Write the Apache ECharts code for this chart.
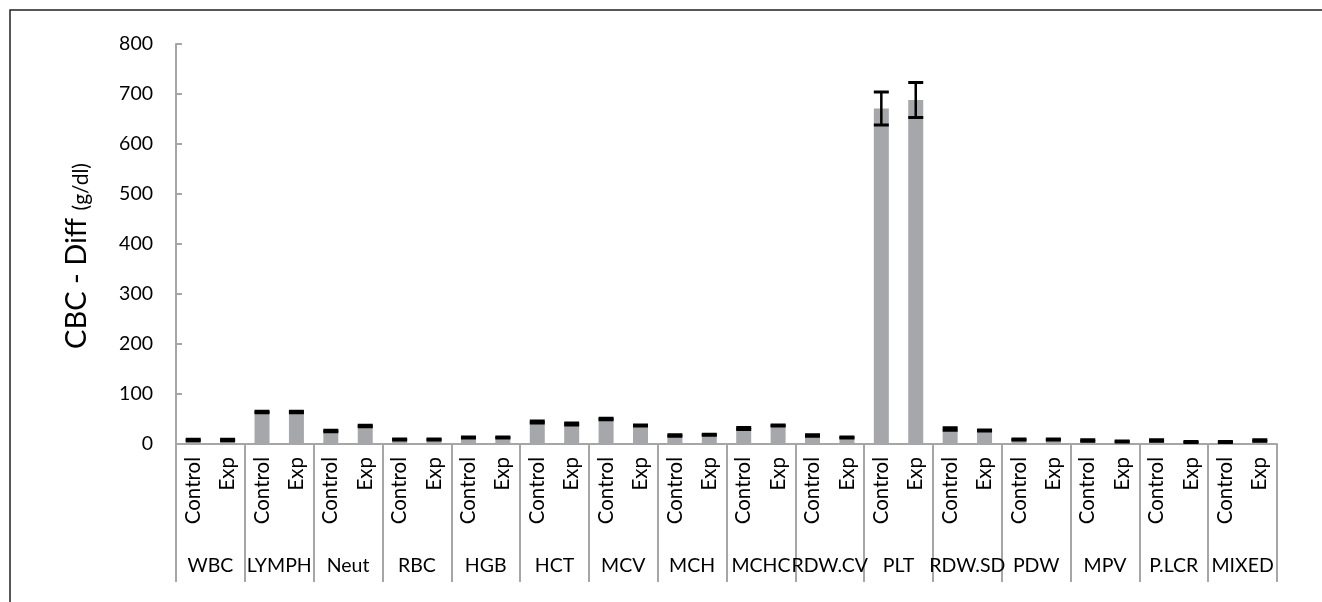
<!DOCTYPE html>
<html>
<head>
<meta charset="utf-8">
<script src="https://cdn.jsdelivr.net/npm/echarts@6/dist/echarts.min.js"></script>
<style>
html,body{margin:0;padding:0;background:#fff;}
#chart{width:1322px;height:602px;}
</style>
</head>
<body>
<div id="chart"></div>
<script>
// ---- data ----
const groups = ['WBC','LYMPH','Neut','RBC','HGB','HCT','MCV','MCH','MCHC','RDW.CV','PLT','RDW.SD','PDW','MPV','P.LCR','MIXED'];
const subLabels = ['Control','Exp'];
const controlMean = [8, 64, 26, 9, 13, 44, 50, 17, 31, 17, 671, 30, 9, 7, 7, 4];
const expMean     = [8, 64, 36, 9, 13, 40, 37, 18.5, 37, 13, 688, 27, 9, 5, 4, 7];
const controlErr  = [1.5, 1.5, 1.5, 1, 1, 2, 1.5, 1.5, 2, 1.5, 33, 2.5, 1, 1.5, 1.5, 1];
const expErr      = [1.5, 1.5, 1.5, 1, 1, 2, 1, 1, 1, 1, 35, 1, 1, 1, 1, 1.5];
const yTicks = [0, 100, 200, 300, 400, 500, 600, 700, 800];

// ---- build series ----
const cats = [], means = [], errs = [];
groups.forEach((g, i) => {
  cats.push(subLabels[0]); means.push(controlMean[i]); errs.push(controlErr[i]);
  cats.push(subLabels[1]); means.push(expMean[i]); errs.push(expErr[i]);
});
const errData = means.map((m, i) => [i, m - errs[i], m + errs[i]]);

const FONT = 'Lato';
const GREY = '#a6a6a6';
const chart = echarts.init(document.getElementById('chart'));
chart.setOption({
  animation: false,
  textStyle: { fontFamily: FONT },
  grid: { left: 176, right: 45, top: 44, bottom: 158, containLabel: false, outerBoundsMode: 'none' },
  xAxis: [
    {
      type: 'category', data: cats, position: 'bottom',
      axisLine: { show: true, lineStyle: { color: GREY, width: 2 } },
      axisTick: { show: false },
      axisLabel: { interval: 0, rotate: 90, margin: 13, color: '#000', fontSize: 20.5, fontFamily: FONT }
    },
    {
      type: 'category', data: groups, position: 'bottom', offset: 0,
      axisLine: { show: false },
      axisTick: { show: true, length: 138, interval: 0, lineStyle: { color: GREY, width: 2 } },
      axisLabel: { interval: 0, margin: 112, color: '#000', fontSize: 19.5, fontFamily: FONT, hideOverlap: false }
    }
  ],
  yAxis: {
    type: 'value', min: yTicks[0], max: yTicks[yTicks.length - 1], interval: 100,
    splitLine: { show: false },
    axisLine: { show: true, lineStyle: { color: GREY, width: 2 } },
    axisTick: { show: true, inside: true, length: 6, lineStyle: { color: GREY, width: 2 } },
    axisLabel: { color: '#000', fontSize: 19.5, margin: 23, fontFamily: FONT }
  },
  graphic: [
    { type: 'rect', shape: { x: 10, y: 10, width: 1340, height: 640 }, style: { fill: 'none', stroke: '#222', lineWidth: 1.5 }, silent: true },
    {
      type: 'text', x: 77, y: 256, rotation: Math.PI / 2,
      style: {
        text: '{m|CBC - Diff }{s|(g/dl)}',
        align: 'center', verticalAlign: 'middle',
        rich: {
          m: { fontSize: 29, fontFamily: FONT, fill: '#000', verticalAlign: 'bottom' },
          s: { fontSize: 21, fontFamily: FONT, fill: '#000', verticalAlign: 'bottom' }
        }
      }
    }
  ],
  series: [
    {
      type: 'bar', data: means, xAxisIndex: 0, barWidth: 15,
      itemStyle: { color: '#a6a7ab' }, z: 2
    },
    {
      type: 'custom', xAxisIndex: 0, data: errData, z: 5,
      encode: { x: 0, y: [1, 2] },
      renderItem: function (params, api) {
        const x = api.value(0), lo = api.value(1), hi = api.value(2);
        const pLo = api.coord([x, lo]), pHi = api.coord([x, hi]);
        const hw = 7.5;
        return {
          type: 'group',
          children: [
            { type: 'line', shape: { x1: pHi[0], y1: pHi[1], x2: pLo[0], y2: pLo[1] }, style: { stroke: '#000', lineWidth: 2.5 } },
            { type: 'line', shape: { x1: pHi[0] - hw, y1: pHi[1], x2: pHi[0] + hw, y2: pHi[1] }, style: { stroke: '#000', lineWidth: 3 } },
            { type: 'line', shape: { x1: pLo[0] - hw, y1: pLo[1], x2: pLo[0] + hw, y2: pLo[1] }, style: { stroke: '#000', lineWidth: 3 } }
          ]
        };
      }
    }
  ]
});
</script>
</body>
</html>
